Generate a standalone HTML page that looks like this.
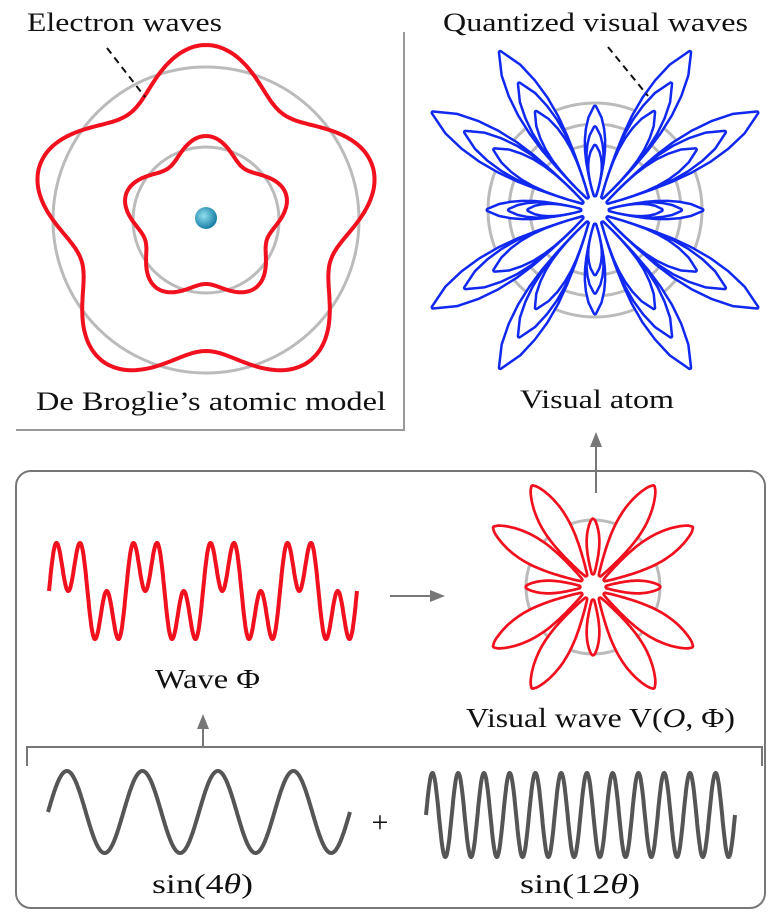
<!DOCTYPE html>
<html><head><meta charset="utf-8">
<style>
body{margin:0;background:#fff;}
svg{display:block;}
text{font-family:"Liberation Serif",serif;fill:#111;}
</style></head>
<body>
<svg id="fig" width="777" height="918" viewBox="0 0 777 918" xmlns="http://www.w3.org/2000/svg">
  <polyline points="404,32 404,430 16,430" fill="none" stroke="#999" stroke-width="2"/>
  <circle cx="206" cy="220" r="153" fill="none" stroke="#bbb" stroke-width="3"/>
  <circle cx="206" cy="220" r="73" fill="none" stroke="#bbb" stroke-width="3"/>
  <path id="outerWave" fill="none" stroke="#f0101e" stroke-width="4"/>
  <path id="innerWave" fill="none" stroke="#f0101e" stroke-width="4"/>
  <defs><radialGradient id="nuc" cx="40%" cy="40%" r="60%"><stop offset="0" stop-color="#8fe0f0"/><stop offset="1" stop-color="#1a7fa5"/></radialGradient></defs>
  <circle cx="206" cy="218" r="11" fill="url(#nuc)"/>
  <line x1="107" y1="48" x2="145" y2="97" stroke="#111" stroke-width="2" stroke-dasharray="7,5"/>
  <text x="27" y="31" font-size="26" textLength="195" lengthAdjust="spacingAndGlyphs">Electron waves</text>
  <text x="36" y="410" font-size="26" textLength="350" lengthAdjust="spacingAndGlyphs">De Broglie’s atomic model</text>

  <circle cx="595" cy="210" r="107" fill="none" stroke="#bbb" stroke-width="3"/>
  <circle cx="595" cy="210" r="86" fill="none" stroke="#bbb" stroke-width="3"/>
  <circle cx="595" cy="210" r="65" fill="none" stroke="#bbb" stroke-width="3"/>
  <g id="blueAtom"></g>
  <line x1="608" y1="47" x2="648" y2="96" stroke="#111" stroke-width="2" stroke-dasharray="7,5"/>
  <text x="443" y="31" font-size="26" textLength="305" lengthAdjust="spacingAndGlyphs">Quantized visual waves</text>
  <text x="520" y="408" font-size="26" textLength="154" lengthAdjust="spacingAndGlyphs">Visual atom</text>

  <rect x="16" y="471" width="749" height="437" rx="15" fill="none" stroke="#777" stroke-width="2"/>
  <g stroke="#777" stroke-width="2" fill="#777">
    <line x1="596" y1="493" x2="596" y2="446"/>
    <polygon points="596,432 590,447 602,447" stroke="none"/>
    <line x1="390" y1="596" x2="430" y2="596"/>
    <polygon points="445,596 430,590 430,602" stroke="none"/>
    <line x1="203" y1="747" x2="203" y2="728"/>
    <polygon points="203,714 197,729 209,729" stroke="none"/>
    <polyline points="27,766 27,747 762,747 762,766" fill="none"/>
  </g>
  <circle cx="593" cy="587" r="67" fill="none" stroke="#bbb" stroke-width="3"/>
  <g id="redRose"></g>
  <path id="wavePhi" fill="none" stroke="#f0101e" stroke-width="4"/>
  <path id="sin4" fill="none" stroke="#555" stroke-width="4"/>
  <path id="sin12" fill="none" stroke="#555" stroke-width="4"/>
  <text x="380" y="832" font-size="30" text-anchor="middle">+</text>
  <text x="155" y="688" font-size="27" textLength="105" lengthAdjust="spacingAndGlyphs">Wave Φ</text>
  <text x="466" y="727" font-size="27" textLength="269" lengthAdjust="spacingAndGlyphs">Visual wave V(<tspan font-style="italic">O</tspan>, Φ)</text>
  <text x="152" y="893" font-size="27" textLength="101" lengthAdjust="spacingAndGlyphs">sin(4<tspan font-style="italic">θ</tspan>)</text>
  <text x="520" y="893" font-size="27" textLength="120" lengthAdjust="spacingAndGlyphs">sin(12<tspan font-style="italic">θ</tspan>)</text>
</svg>
<script>
// orbit waves
const orbitRadii = [153, 74];
const orbitAmps = [22, 10];
const orbitLobes = [5, 5];
// rose petals: angle (deg, 0 = right, CCW), length, half-width (px)
const petalAngles = [0, 31, 59, 90, 121, 149, 180, 211, 239, 270, 301, 329];
const redPetalLengths = [66, 115, 117, 67, 117, 115, 66, 115, 117, 67, 117, 115];
const redPetalWidths = [5, 12, 12, 5, 12, 12, 5, 12, 12, 5, 12, 12];
const bluePetalLengths = [107, 189, 184, 103, 184, 189, 107, 189, 184, 103, 184, 189];
const bluePetalWidths = [8, 17, 16, 9, 16, 17, 8, 17, 16, 9, 16, 17];
const blueScales = [1, 0.8, 0.62];
// waves: frequencies
const phiFreqs = [4, 12];
const sin4Freqs = [4];
const sin12Freqs = [12];

function orbitPath(cx, cy, R, A, k) {
  let d = '';
  for (let i = 0; i <= 360; i++) {
    const t = i * Math.PI / 180;
    const r = R + A * Math.cos(k * t);
    d += (i ? 'L' : 'M') + (cx + r * Math.sin(t)).toFixed(1) + ',' + (cy - r * Math.cos(t)).toFixed(1);
  }
  return d;
}
document.getElementById('outerWave').setAttribute('d', orbitPath(206, 220, orbitRadii[0], orbitAmps[0], orbitLobes[0]));
document.getElementById('innerWave').setAttribute('d', orbitPath(206, 220, orbitRadii[1], orbitAmps[1], orbitLobes[1]));

function halfW(t, B) {
  return B * Math.pow(Math.max(0, Math.sin(Math.PI * Math.pow(t, 1.3))), 0.7);
}
function petalD(cx, cy, angDeg, L, B, r0, n) {
  const a = angDeg * Math.PI / 180;
  const ux = Math.cos(a), uy = -Math.sin(a), vx = -uy, vy = ux;
  const pts = [];
  for (let i = 0; i <= n; i++) {
    const t = i / n, h = halfW(t, B), u = r0 + t * (L - r0);
    pts.push([cx + u * ux + h * vx, cy + u * uy + h * vy]);
  }
  for (let i = n - 1; i > 0; i--) {
    const t = i / n, h = halfW(t, B), u = r0 + t * (L - r0);
    pts.push([cx + u * ux - h * vx, cy + u * uy - h * vy]);
  }
  return pts.map((p, i) => (i ? 'L' : 'M') + p[0].toFixed(1) + ',' + p[1].toFixed(1)).join('') + 'Z';
}
function roseD(cx, cy, lengths, widths, scale, r0, n) {
  return petalAngles.map((a, i) => petalD(cx, cy, a, lengths[i] * scale, widths[i] * scale, r0, n)).join('');
}
const NS = 'http://www.w3.org/2000/svg';
function addRose(parent, d, color, sw, name) {
  const s = document.createElementNS(NS, 'path');
  s.setAttribute('d', d);
  s.setAttribute('fill', 'none'); s.setAttribute('stroke', color); s.setAttribute('stroke-width', sw * 2);
  s.setAttribute('stroke-linejoin', 'round');
  
  
  parent.appendChild(s);
  const f = document.createElementNS(NS, 'path');
  f.setAttribute('d', d);
  f.setAttribute('fill', '#fff'); f.setAttribute('stroke', 'none');
  
  
  parent.appendChild(f);
}
addRose(document.getElementById('redRose'), roseD(593, 587, redPetalLengths, redPetalWidths, 1, 14, 40), '#f0101e', 2.7, 'visual-wave-curve');
const blue = document.getElementById('blueAtom');
blueScales.forEach(sc => {
  addRose(blue, roseD(595, 210, bluePetalLengths, bluePetalWidths, sc, 15, 8), '#1028f0', 2.5, 'quantized-wave-level');
});

function wavePath(x0, x1, yc, amp, freqs) {
  let max = 0; const vals = [];
  for (let i = 0; i <= 800; i++) {
    const t = 2 * Math.PI * i / 800;
    let v = 0; freqs.forEach(f => v += Math.sin(f * t));
    vals.push(v); max = Math.max(max, Math.abs(v));
  }
  let d = '';
  vals.forEach((v, i) => {
    d += (i ? 'L' : 'M') + (x0 + (x1 - x0) * i / 800).toFixed(1) + ',' + (yc - amp * v / max).toFixed(1);
  });
  return d;
}
document.getElementById('wavePhi').setAttribute('d', wavePath(49, 357, 591, 48, phiFreqs));
document.getElementById('sin4').setAttribute('d', wavePath(48, 350, 812, 41, sin4Freqs));
document.getElementById('sin12').setAttribute('d', wavePath(426, 735, 815, 42, sin12Freqs));
</script>
</body></html>
